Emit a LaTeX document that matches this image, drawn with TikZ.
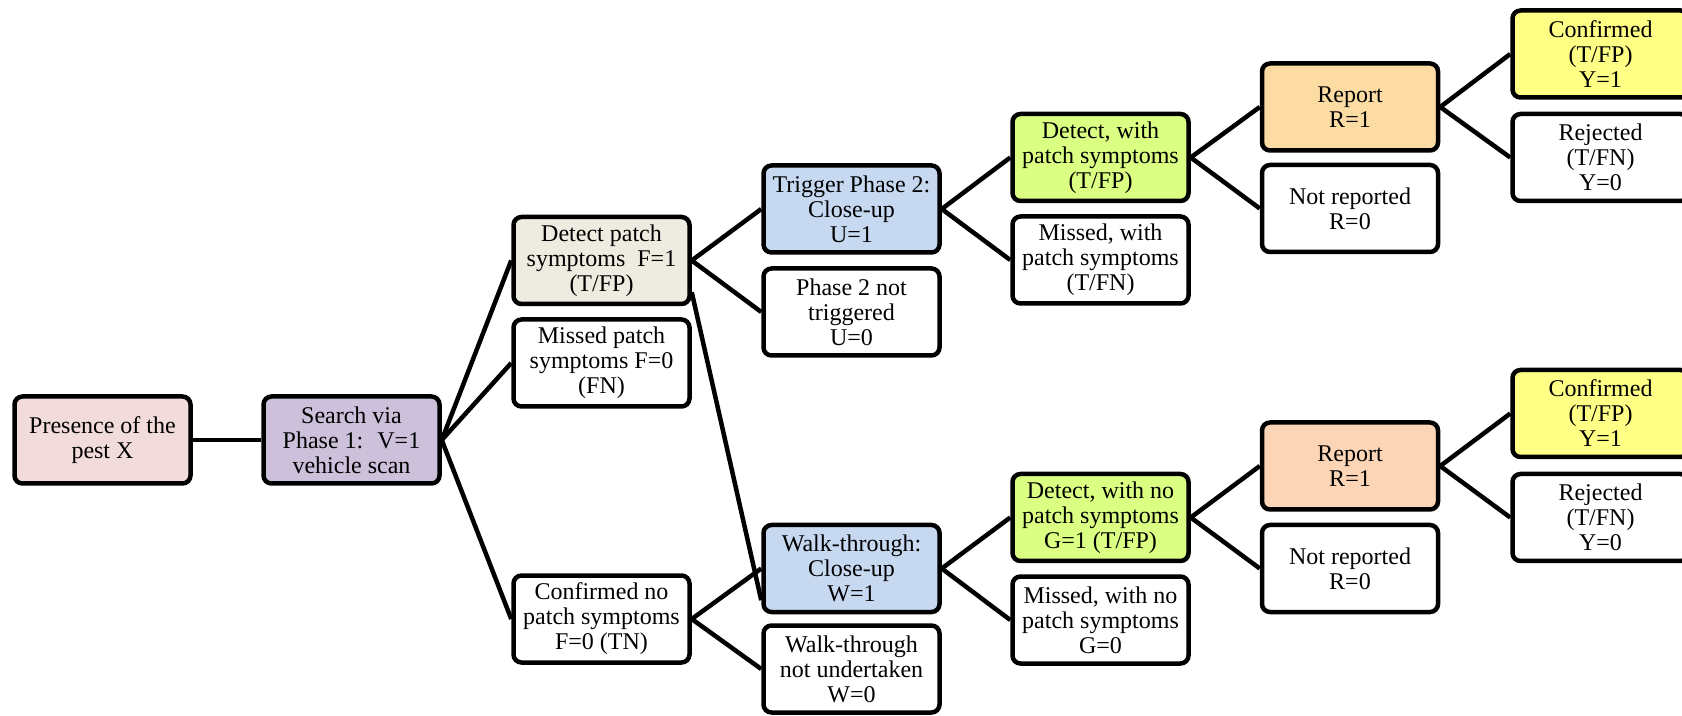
\documentclass[tikz,border=0pt]{standalone}
\usepackage{fontspec}
\setmainfont{Liberation Serif}
\definecolor{presfill}{HTML}{F2DCDB}
\definecolor{searchfill}{HTML}{CCC0DA}
\definecolor{patchfill}{HTML}{EEECE1}
\definecolor{closefill}{HTML}{C6D9F1}
\definecolor{detfill}{HTML}{DAFF82}
\definecolor{reptfill}{HTML}{FDDCA4}
\definecolor{repbfill}{HTML}{FBD5B5}
\definecolor{conffill}{HTML}{FFFF85}
\tikzset{
  box/.style={draw, fill=#1, line width=2.25pt, rounded corners=4pt, align=center,
    minimum width=88pt, minimum height=43.5pt, inner sep=1pt,
    font=\fontsize{12}{12.5}\selectfont},
  box/.default=white,
  link/.style={line width=2.25pt}
}

\begin{document}
\begin{tikzpicture}[x=0.5pt,y=0.5pt,yscale=-1]
    \useasboundingbox (0,0) rectangle (1682,716);
    \node [box=presfill]   (pres)   at (102.5,440)  {Presence of the\\pest X};
    \node [box=searchfill] (search) at (351.5,440)  {Search via\\Phase 1:~ V=1\\vehicle scan};
    \node [box=patchfill]  (detF)   at (601.5,260.5) {Detect patch\\symptoms~ F=1\\(T/FP)};
    \node [box]            (misF)   at (601.5,363)  {Missed patch\\symptoms F=0\\(FN)};
    \node [box]            (conF)   at (601.5,619)  {Confirmed no\\patch symptoms\\F=0 (TN)};
    \node [box=closefill]  (trigU)  at (851.5,209)  {Trigger Phase 2:\\Close-up\\U=1};
    \node [box]            (notU)   at (851.5,312)  {Phase 2 not\\triggered\\U=0};
    \node [box=closefill]  (walkW)  at (851.5,568.5) {Walk-through:\\Close-up\\W=1};
    \node [box]            (notW)   at (851.5,669)  {Walk-through\\not undertaken\\W=0};
    \node [box=detfill]    (detP)   at (1100.5,157.5) {Detect, with\\patch symptoms\\(T/FP)};
    \node [box]            (misP)   at (1100.5,260) {Missed, with\\patch symptoms\\(T/FN)};
    \node [box=detfill]    (detG)   at (1100.5,517.5) {Detect, with no\\patch symptoms\\G=1 (T/FP)};
    \node [box]            (misG)   at (1100.5,620) {Missed, with no\\patch symptoms\\G=0};
    \node [box=reptfill]   (repT)   at (1350,107)   {Report\\R=1};
    \node [box]            (nrT)    at (1350,208.5) {Not reported\\R=0};
    \node [box=repbfill]   (repB)   at (1350,466)   {Report\\R=1};
    \node [box]            (nrB)    at (1350,568.5) {Not reported\\R=0};
    \node [box=conffill]   (confT)  at (1600.5,54)  {Confirmed\\(T/FP)\\Y=1};
    \node [box]            (rejT)   at (1600.5,157.5) {Rejected\\(T/FN)\\Y=0};
    \node [box=conffill]   (confB)  at (1600.5,413.5) {Confirmed\\(T/FP)\\Y=1};
    \node [box]            (rejB)   at (1600.5,517.5) {Rejected\\(T/FN)\\Y=0};

    \draw [link] (pres.east) -- (search.west);
    \foreach \a/\b in {search/detF, search/misF, search/conF,
                       detF/trigU, detF/notU, conF/walkW, conF/notW,
                       trigU/detP, trigU/misP, walkW/detG, walkW/misG,
                       detP/repT, detP/nrT, detG/repB, detG/nrB,
                       repT/confT, repT/rejT, repB/confB, repB/rejB}
      \draw [link] (\a.east) -- (\b.west);
    \draw [link] ([yshift=-7pt]detF.south east) -- ([yshift=-7pt]walkW.south west);
\end{tikzpicture}
\end{document}
